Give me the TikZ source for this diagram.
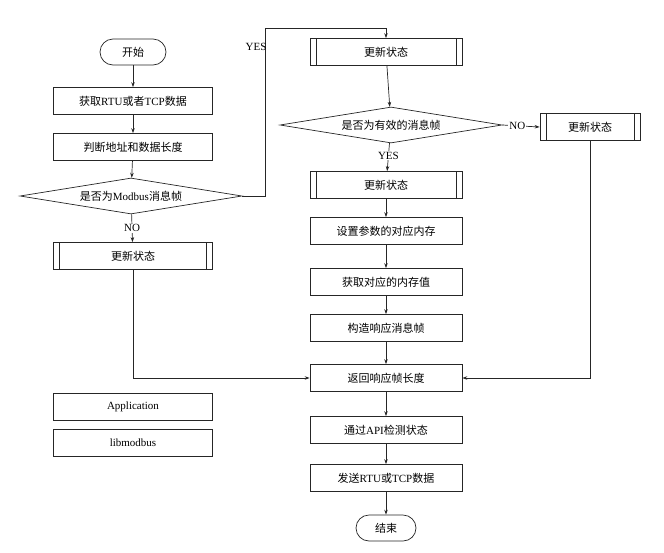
\documentclass[tikz,border=0pt]{standalone}
\usepackage{fontspec}
\setmainfont{Liberation Serif}
\newfontfamily\cjk{Noto Sans CJK SC}
\usetikzlibrary{shapes.geometric,arrows.meta}
\begin{document}
\begin{tikzpicture}[x=1pt,y=-1pt,
  every node/.style={font=\fontsize{11}{13}\selectfont},
  line/.style={draw=black!85,line width=0.7pt},
  arr/.style={line,-{Stealth[length=5pt,width=3.5pt]}},
  box/.style={line,rectangle,minimum height=27pt,inner sep=0pt},
  proc/.style={box,path picture={
    \draw[black!85,line width=0.6pt] ([xshift=6pt]path picture bounding box.north west) -- ([xshift=6pt]path picture bounding box.south west);
    \draw[black!85,line width=0.6pt] ([xshift=-6pt]path picture bounding box.north east) -- ([xshift=-6pt]path picture bounding box.south east);}},
  term/.style={line,rounded corners=13pt,minimum width=66pt,minimum height=26pt,inner sep=0pt},
  dia/.style={line,diamond,aspect=6,minimum width=222pt,minimum height=36pt,inner sep=0pt},
  lab/.style={font=\fontsize{11}{13}\selectfont,fill=white,inner sep=1pt}]
\useasboundingbox (0,0) rectangle (664,552);
% left column
\node[term] (start) at (133,52) {\cjk 开始};
\node[box,minimum width=159pt] (get) at (133,101) {{\cjk 获取}RTU{\cjk 或者}TCP{\cjk 数据}};
\node[box,minimum width=159pt] (judge) at (133,147) {\cjk 判断地址和数据长度};
\node[dia] (d1) at (131,196) {{\cjk 是否为}Modbus{\cjk 消息帧}};
\node[proc,minimum width=159pt] (u1) at (133,256) {\cjk 更新状态};
\node[box,minimum width=159pt] (app) at (133,407) {Application};
\node[box,minimum width=159pt] (lib) at (133,443) {libmodbus};
% right column
\node[proc,minimum width=152pt] (u2) at (386,52) {\cjk 更新状态};
\node[dia] (d2) at (391,125) {\cjk 是否为有效的消息帧};
\node[proc,minimum width=152pt] (u3) at (386,185) {\cjk 更新状态};
\node[box,minimum width=152pt] (set) at (386,231) {\cjk 设置参数的对应内存};
\node[box,minimum width=152pt] (getv) at (386,282) {\cjk 获取对应的内存值};
\node[box,minimum width=152pt] (build) at (386,328) {\cjk 构造响应消息帧};
\node[box,minimum width=152pt] (ret) at (386,378) {\cjk 返回响应帧长度};
\node[box,minimum width=152pt] (api) at (386,430) {{\cjk 通过}API{\cjk 检测状态}};
\node[box,minimum width=152pt] (send) at (386,478) {{\cjk 发送}RTU{\cjk 或}TCP{\cjk 数据}};
\node[term,minimum width=60pt] (end) at (386,528) {\cjk 结束};
\node[proc,minimum width=100pt] (u4) at (590,127) {\cjk 更新状态};
% connectors
\draw[arr] (start) -- (get);
\draw[arr] (get) -- (judge);
\draw[arr] (judge) -- (d1);
\draw[arr] (d1) -- node[lab]{NO} (u1);
\coordinate (y1) at (265,196);
\coordinate (y2) at (265,28);
\draw[arr] (d1.east) -- (y1) -- (y2) -| (u2.north);
\node[font=\fontsize{11}{13}\selectfont] (yes1) at (256,47) {YES};
\draw[arr] (u2) -- (d2);
\draw[arr] (d2) -- node[lab,pos=0.45]{YES} (u3);
\draw[arr] (u3) -- (set);
\draw[arr] (set) -- (getv);
\draw[arr] (getv) -- (build);
\draw[arr] (build) -- (ret);
\draw[arr] (ret) -- (api);
\draw[arr] (api) -- (send);
\draw[arr] (send) -- (end);
\draw[arr] (d2.east) -- node[lab,pos=0.4]{NO} (u4.west);
\draw[arr] (u4.south) |- (ret.east);
\draw[arr] (u1.south) |- (ret.west);
\end{tikzpicture}
\end{document}
